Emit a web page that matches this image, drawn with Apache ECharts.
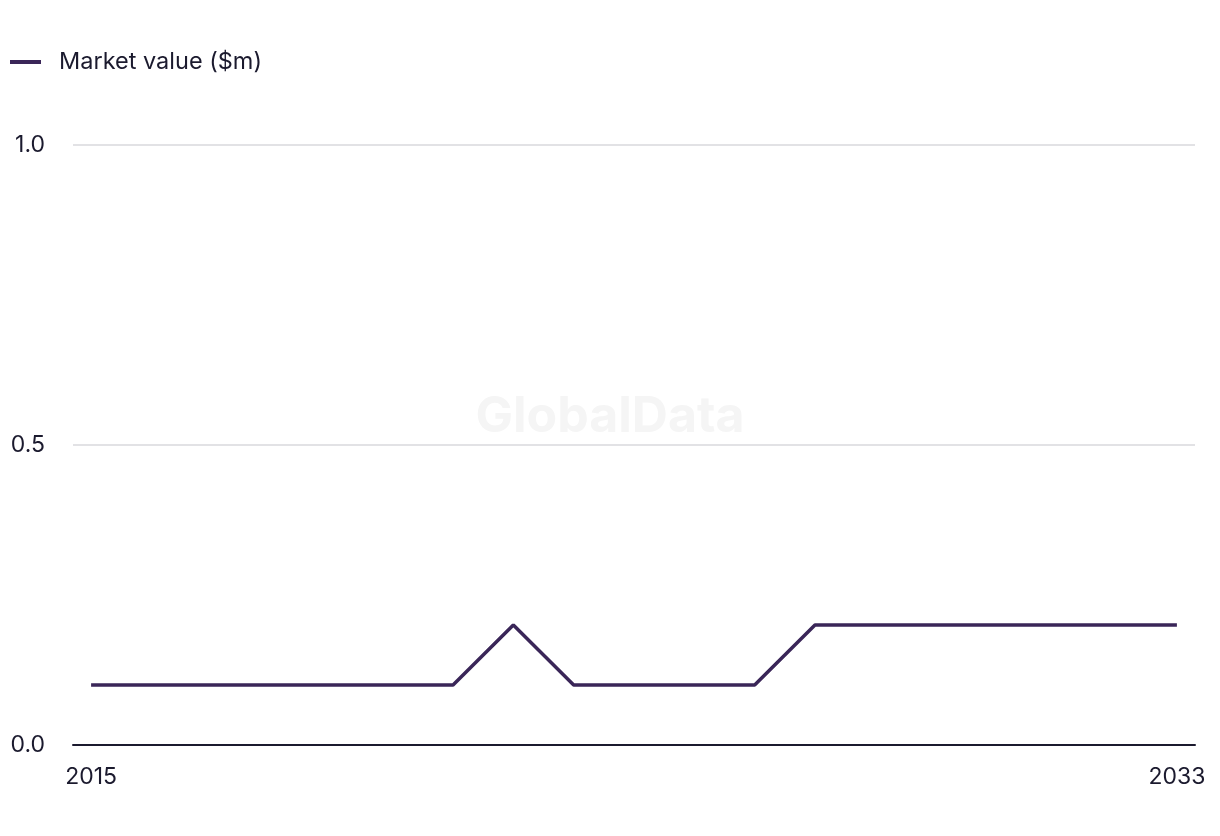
<!DOCTYPE html>
<html><head><meta charset="utf-8">
<script src="https://cdn.jsdelivr.net/npm/echarts@6/dist/echarts.min.js"></script>
<style>html,body{margin:0;padding:0;background:#fff}#c{width:1220px;height:836px}</style>
</head><body><div id="c"></div>
<script>
const years = [2015,2016,2017,2018,2019,2020,2021,2022,2023,2024,2025,2026,2027,2028,2029,2030,2031,2032,2033];
const marketValue = [0.1,0.1,0.1,0.1,0.1,0.1,0.1,0.2,0.1,0.1,0.1,0.1,0.2,0.2,0.2,0.2,0.2,0.2,0.2];
const xLabelYears = [2015, 2033];
const yTicks = [0, 0.5, 1.0];
const seriesName = 'Market value ($m)';

const chart = echarts.init(document.getElementById('c'), null, {renderer:'canvas'});
const font = 'Inter, "Open Sans", sans-serif';
const txt = '#1b1a2e';
chart.setOption({
  animation:false,
  graphic:[{type:'text',left:'center',top:392,z:0,style:{text:'GlobalData',font:'bold 50px '+font,fill:'#f5f5f5'}}],
  legend:{left:10,top:50,padding:0,itemWidth:31,itemHeight:4,icon:'rect',
    textStyle:{fontSize:23.5,color:txt,fontFamily:font,padding:[0,0,0,13]},data:[seriesName]},
  grid:{left:73,right:25,top:145,bottom:91,containLabel:false},
  xAxis:{type:'value',min:2014.7,max:2033.3,
    axisLine:{show:true,lineStyle:{color:txt,width:2}},
    axisTick:{show:false},splitLine:{show:false},
    axisLabel:{customValues:xLabelYears,fontSize:23,color:txt,fontFamily:font,margin:21,formatter:v=>String(v)}},
  yAxis:{type:'value',min:0,max:1,interval:0.5,
    axisLine:{show:false},axisTick:{show:false},
    splitLine:{lineStyle:{color:'#d9d9dc',width:1.5}},
    axisLabel:{fontSize:23,color:txt,fontFamily:font,margin:28,formatter:v=>v.toFixed(1)}},
  series:[{name:seriesName,type:'line',data:years.map((y,i)=>[y,marketValue[i]]),
    symbol:'none',lineStyle:{color:'#3a2658',width:3.5},itemStyle:{color:'#3a2658'}}]
});
</script></body></html>
